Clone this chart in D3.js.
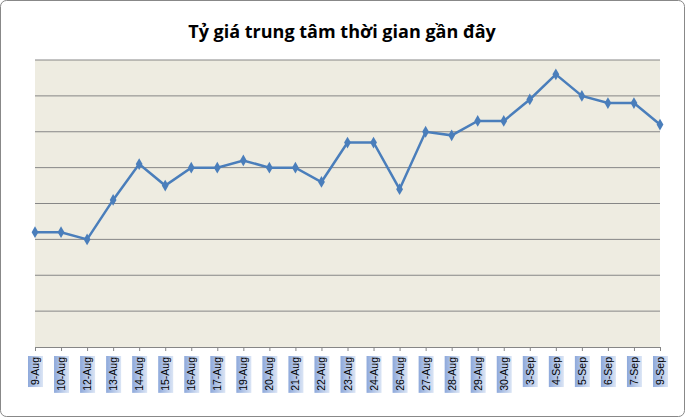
<!DOCTYPE html><html><head><meta charset="utf-8"><script src="https://cdn.jsdelivr.net/npm/d3@7"></script>
<style>body{margin:0;background:#fff}</style></head><body><svg id="c" width="685" height="417"></svg><script>
const categories=["9-Aug","10-Aug","12-Aug","13-Aug","14-Aug","15-Aug","16-Aug","17-Aug","19-Aug","20-Aug","21-Aug","22-Aug","23-Aug","24-Aug","26-Aug","27-Aug","28-Aug","29-Aug","30-Aug","3-Sep","4-Sep","5-Sep","6-Sep","7-Sep","9-Sep"];
const values=[3.2,3.2,3.0,4.1,5.1,4.5,5.0,5.0,5.2,5.0,5.0,4.6,5.7,5.7,4.4,6.0,5.9,6.3,6.3,6.9,7.6,7.0,6.8,6.8,6.2];
const title="Tỷ giá trung tâm thời gian gần đây";
const svg=d3.select("#c");
svg.append("rect").attr("x",0.5).attr("y",0.5).attr("width",684).attr("height",416).attr("rx",6).attr("fill","#fff").attr("stroke","#888");
const L=35,R=660,T=60,B=347;
const x=d3.scaleLinear().domain([0,categories.length-1]).range([L,R]);
const y=d3.scaleLinear().domain([0,8]).range([B,T]);
svg.append("rect").attr("x",L).attr("y",T).attr("width",R-L).attr("height",B-T).attr("fill","#eeece1");
svg.append("g").selectAll("line").data(d3.range(1,9)).join("line").attr("x1",L).attr("x2",R).attr("y1",d=>y(d)).attr("y2",d=>y(d)).attr("stroke","#868686");
const g=svg.append("g").attr("transform",`translate(0,${B})`).call(d3.axisBottom(x).tickValues(d3.range(categories.length)).tickSize(4).tickFormat(""));
g.selectAll("path,line").attr("stroke","#868686");
const defs=svg.append("defs");const gr=defs.append("linearGradient").attr("id","lg");
gr.append("stop").attr("offset","0").attr("stop-color","#8ea9db");gr.append("stop").attr("offset","1").attr("stop-color","#dbe5f5");
categories.forEach((c,i)=>{
 const lg=svg.append("g");
 const r=lg.append("rect");
 const t=lg.append("text").attr("transform",`translate(${x(i)+4},357) rotate(-90)`).attr("text-anchor","end").attr("font-family","Liberation Sans, Arial").attr("font-size",10.5).text(c);
 const w=t.node().getComputedTextLength();
 r.attr("x",x(i)-7).attr("y",356).attr("width",15).attr("height",w+3).attr("fill","url(#lg)");
});
svg.append("path").datum(values).attr("d",d3.line().x((d,i)=>x(i)).y(d=>y(d))).attr("fill","none").attr("stroke","#4a7ebb").attr("stroke-width",2.5);
svg.append("g").selectAll("path").data(values).join("path").attr("transform",(d,i)=>`translate(${x(i)},${y(d)})`).attr("d",d3.symbol(d3.symbolDiamond,40)).attr("fill","#4a7ebb");
svg.append("text").attr("x",342).attr("y",38).attr("text-anchor","middle").attr("font-family","Open Sans, DejaVu Sans").attr("font-weight","bold").attr("font-size",18).text(title);
</script></body></html>
